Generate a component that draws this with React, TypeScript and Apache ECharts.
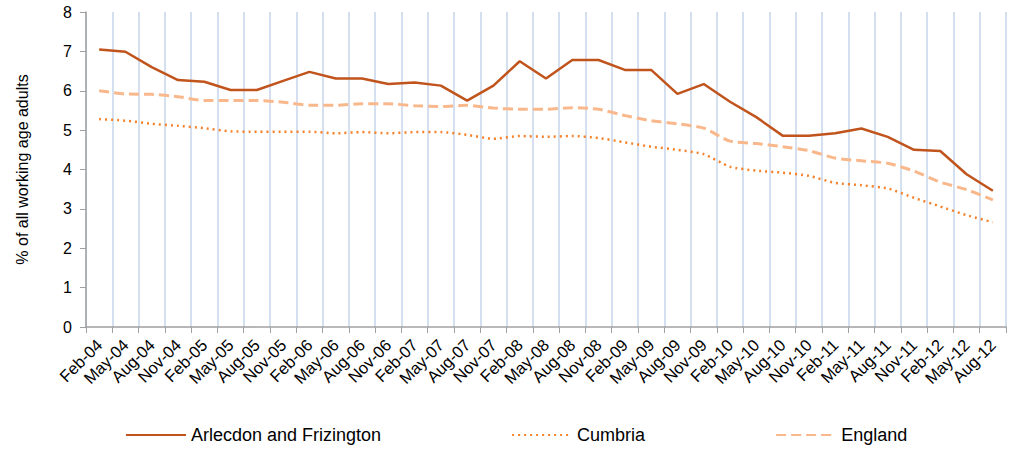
import React, { useEffect, useRef } from "react";
import * as echarts from "echarts";

const categories = [
  "Feb-04", "May-04", "Aug-04", "Nov-04",
  "Feb-05", "May-05", "Aug-05", "Nov-05",
  "Feb-06", "May-06", "Aug-06", "Nov-06",
  "Feb-07", "May-07", "Aug-07", "Nov-07",
  "Feb-08", "May-08", "Aug-08", "Nov-08",
  "Feb-09", "May-09", "Aug-09", "Nov-09",
  "Feb-10", "May-10", "Aug-10", "Nov-10",
  "Feb-11", "May-11", "Aug-11", "Nov-11",
  "Feb-12", "May-12", "Aug-12",
];

const arlecdon = [
  7.05, 6.99, 6.6, 6.27,
  6.23, 6.02, 6.02, 6.25,
  6.48, 6.31, 6.31, 6.17,
  6.21, 6.13, 5.75, 6.13,
  6.75, 6.31, 6.78, 6.78,
  6.53, 6.53, 5.92, 6.17,
  5.72, 5.33, 4.86, 4.86,
  4.92, 5.04, 4.83, 4.5,
  4.47, 3.88, 3.46,
];

const cumbria = [
  5.28, 5.24, 5.16, 5.11,
  5.05, 4.97, 4.96, 4.96,
  4.96, 4.92, 4.95, 4.92,
  4.95, 4.95, 4.88, 4.78,
  4.85, 4.83, 4.85, 4.8,
  4.69, 4.58, 4.5, 4.39,
  4.07, 3.97, 3.92, 3.84,
  3.66, 3.6, 3.52, 3.28,
  3.06, 2.84, 2.66,
];

const england = [
  6.0, 5.92, 5.91, 5.85,
  5.75, 5.75, 5.75, 5.71,
  5.63, 5.63, 5.67, 5.67,
  5.62, 5.6, 5.63, 5.56,
  5.53, 5.53, 5.57, 5.53,
  5.37, 5.24, 5.16, 5.05,
  4.72, 4.66, 4.58, 4.48,
  4.29, 4.22, 4.16, 3.96,
  3.68, 3.49, 3.23,
];

const yTicks = { min: 0, max: 8, interval: 1 };
const yAxisTitle = "% of all working age adults";

export default function App() {
  const ref = useRef<HTMLDivElement>(null);
  useEffect(() => {
    if (!ref.current) return;
    const chart = echarts.init(ref.current, null, { renderer: "svg" });
    const font = "'Liberation Sans', Arial, sans-serif";
    const hidden = { opacity: 0 };
    chart.setOption({
      animation: false,
      textStyle: { fontFamily: font },
      grid: { left: 86, right: 5, top: 12, bottom: 122 },
      legend: {
        left: 125,
        top: 426,
        padding: 0,
        itemWidth: 60,
        itemHeight: 14,
        itemGap: 130,
        textStyle: { fontSize: 18, color: "#000", fontFamily: font },
        data: [
          { name: "Arlecdon and Frizington", itemStyle: hidden },
          { name: "Cumbria", itemStyle: hidden },
          { name: "England", itemStyle: hidden },
        ],
      },
      xAxis: {
        type: "category",
        data: categories,
        boundaryGap: true,
        axisLine: { show: true, lineStyle: { color: "#a0a0a0", width: 1.5 } },
        axisTick: { show: true, alignWithLabel: false, length: 6, lineStyle: { color: "#a0a0a0" } },
        axisLabel: {
          interval: 0,
          rotate: 45,
          fontSize: 16.5,
          color: "#000",
          margin: 15,
          fontFamily: font,
        },
        splitLine: { show: true, lineStyle: { color: "#c6d6ea", width: 1.5 } },
      },
      yAxis: {
        type: "value",
        min: yTicks.min,
        max: yTicks.max,
        interval: yTicks.interval,
        name: yAxisTitle,
        nameLocation: "middle",
        nameGap: 56,
        nameTextStyle: { fontSize: 16, color: "#000", fontFamily: font },
        axisLine: { show: true, lineStyle: { color: "#a0a0a0", width: 1.5 } },
        axisTick: { show: true, length: 6, lineStyle: { color: "#a0a0a0" } },
        axisLabel: { fontSize: 16, color: "#000", margin: 14, fontFamily: font },
        splitLine: { show: false },
      },
      series: [
        {
          name: "Arlecdon and Frizington",
          type: "line",
          data: arlecdon,
          symbol: "none",
          lineStyle: { color: "#c0541c", width: 2.5 },
          itemStyle: { color: "#c0541c" },
        },
        {
          name: "Cumbria",
          type: "line",
          data: cumbria,
          symbol: "none",
          smooth: 0.2,
          lineStyle: { color: "#f5822a", width: 2.5, type: [2, 4] },
          itemStyle: { color: "#f5822a" },
        },
        {
          name: "England",
          type: "line",
          data: england,
          symbol: "none",
          smooth: 0.2,
          lineStyle: { color: "#f9b88c", width: 3, type: [10, 5] },
          itemStyle: { color: "#f9b88c" },
        },
      ],
    });
    return () => chart.dispose();
  }, []);
  return <div ref={ref} style={{ width: 1011, height: 449, position: "absolute", left: 0, top: 0 }} />;
}
